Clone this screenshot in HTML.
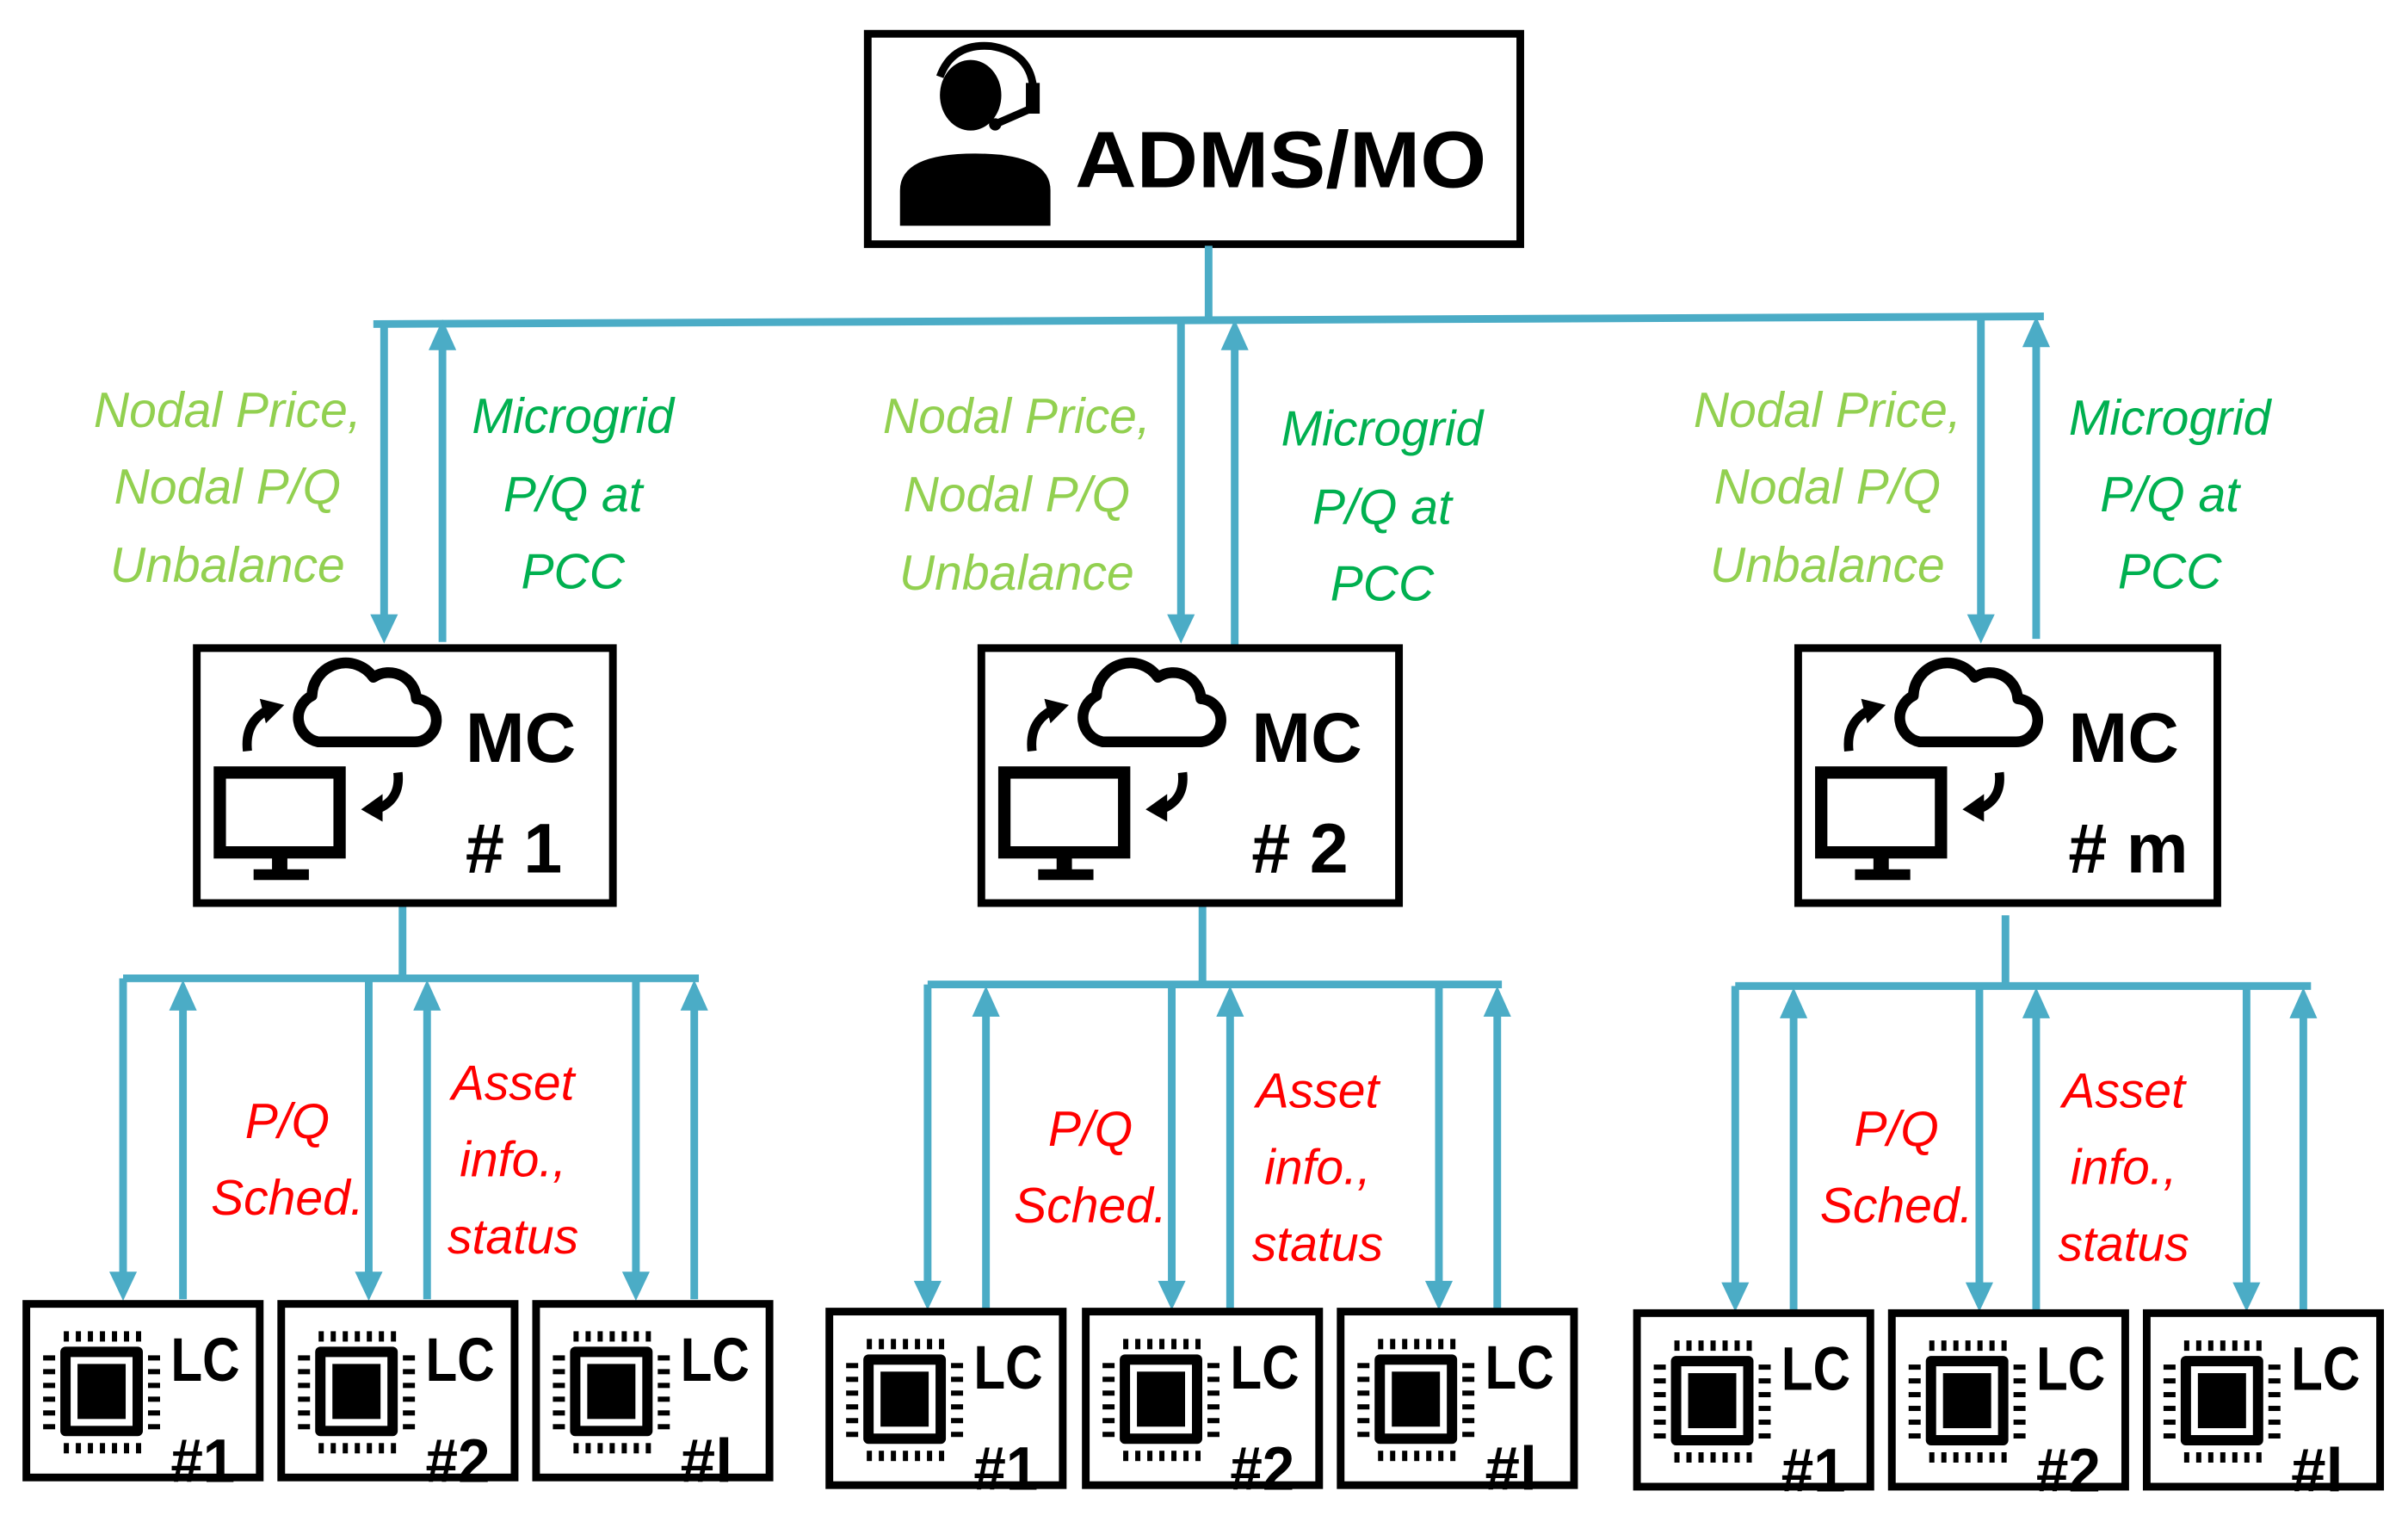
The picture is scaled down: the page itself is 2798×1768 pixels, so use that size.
<!DOCTYPE html>
<html><head><meta charset="utf-8"><style>html,body{margin:0;padding:0;background:#fff}svg{display:block}</style></head><body>
<svg width="2798" height="1768" viewBox="0 0 1568 991" xmlns="http://www.w3.org/2000/svg" font-family="Liberation Sans, sans-serif">
<defs>
<g id="mcicon">
  <path d="M80,62 a16,16 0 0 1 -4,-30 a22,22 0 0 1 40,-12 a18,18 0 0 1 28,14 a14,14 0 0 1 -2,28 Z" fill="none" stroke="#000" stroke-width="7" stroke-linejoin="round"/>
  <rect x="16" y="82" width="78" height="52" fill="none" stroke="#000" stroke-width="8"/>
  <rect x="50" y="136" width="10" height="10" fill="#000"/>
  <rect x="38" y="145" width="36" height="7" fill="#000"/>
  <path d="M34,68 Q32,50 46,42" fill="none" stroke="#000" stroke-width="6"/>
  <polygon points="42,34 58,38 46,50" fill="#000"/>
  <path d="M132,82 Q134,100 118,106" fill="none" stroke="#000" stroke-width="6"/>
  <polygon points="122,96 122,114 108,106" fill="#000"/>
</g>
<g id="chipbase">
  <rect x="27" y="33" width="48" height="52" rx="3" fill="#000"/>
  <rect x="33" y="39" width="36" height="40" fill="#fff"/>
  <rect x="37" y="43" width="28" height="32" fill="#000"/>
  <g fill="#000">
    <rect x="29" y="24" width="3" height="6"/><rect x="36" y="24" width="3" height="6"/><rect x="43" y="24" width="3" height="6"/><rect x="50" y="24" width="3" height="6"/><rect x="57" y="24" width="3" height="6"/><rect x="64" y="24" width="3" height="6"/><rect x="71" y="24" width="3" height="6"/>
    <rect x="29" y="89" width="3" height="6"/><rect x="36" y="89" width="3" height="6"/><rect x="43" y="89" width="3" height="6"/><rect x="50" y="89" width="3" height="6"/><rect x="57" y="89" width="3" height="6"/><rect x="64" y="89" width="3" height="6"/><rect x="71" y="89" width="3" height="6"/>
    <rect x="17" y="38" width="7" height="3"/><rect x="17" y="46" width="7" height="3"/><rect x="17" y="54" width="7" height="3"/><rect x="17" y="62" width="7" height="3"/><rect x="17" y="70" width="7" height="3"/><rect x="17" y="78" width="7" height="3"/>
    <rect x="78" y="38" width="7" height="3"/><rect x="78" y="46" width="7" height="3"/><rect x="78" y="54" width="7" height="3"/><rect x="78" y="62" width="7" height="3"/><rect x="78" y="70" width="7" height="3"/><rect x="78" y="78" width="7" height="3"/>
  </g>
</g>
<g id="chip"><use href="#chipbase" transform="translate(51,59) scale(1.12) translate(-51,-59)"/></g>
</defs>

<rect x="565" y="22" width="425" height="137" fill="#fff" stroke="#000" stroke-width="5"/>
<ellipse cx="632" cy="62" rx="20" ry="23" fill="#000"/>
<path d="M586,147 L586,124 Q586,100 635,100 Q684,100 684,124 L684,147 Z" fill="#000"/>
<path d="M612,50 Q620,28 645,30 Q672,34 673,60 L673,70 L650,80" fill="none" stroke="#000" stroke-width="5"/>
<rect x="668" y="54" width="9" height="20" fill="#000"/>
<circle cx="648" cy="81" r="4" fill="#000"/>
<text x="700" y="122" font-size="52" font-weight="bold" textLength="268" lengthAdjust="spacingAndGlyphs">ADMS/MO</text>

<g stroke="#4bacc6" stroke-width="5" fill="none">
  <line x1="787" y1="160" x2="787" y2="209"/>
  <line x1="243" y1="211" x2="1331" y2="206"/>
  <line x1="250" y1="211" x2="250" y2="404"/>
  <line x1="288" y1="418" x2="288" y2="222"/>
  <line x1="769" y1="209" x2="769" y2="404"/>
  <line x1="804" y1="420" x2="804" y2="222"/>
  <line x1="1290" y1="207" x2="1290" y2="404"/>
  <line x1="1326" y1="416" x2="1326" y2="220"/>
  <line x1="262" y1="590" x2="262" y2="637"/>
  <line x1="80" y1="637" x2="455" y2="637"/>
  <line x1="80" y1="637" x2="80" y2="832"/><line x1="240" y1="637" x2="240" y2="832"/><line x1="414" y1="637" x2="414" y2="832"/>
  <line x1="119" y1="846" x2="119" y2="652"/><line x1="278" y1="846" x2="278" y2="652"/><line x1="452" y1="846" x2="452" y2="652"/>
  <line x1="783" y1="590" x2="783" y2="641"/>
  <line x1="604" y1="641" x2="978" y2="641"/>
  <line x1="604" y1="641" x2="604" y2="838"/><line x1="763" y1="641" x2="763" y2="838"/><line x1="937" y1="641" x2="937" y2="838"/>
  <line x1="642" y1="852" x2="642" y2="656"/><line x1="801" y1="852" x2="801" y2="656"/><line x1="975" y1="852" x2="975" y2="656"/>
  <line x1="1306" y1="596" x2="1306" y2="642"/>
  <line x1="1130" y1="642" x2="1505" y2="642"/>
  <line x1="1130" y1="642" x2="1130" y2="839"/><line x1="1289" y1="642" x2="1289" y2="839"/><line x1="1463" y1="642" x2="1463" y2="839"/>
  <line x1="1168" y1="853" x2="1168" y2="657"/><line x1="1326" y1="853" x2="1326" y2="657"/><line x1="1500" y1="853" x2="1500" y2="657"/>
</g>
<g fill="#4bacc6">
  <polygon points="241,400 259,400 250,419"/><polygon points="279,228 297,228 288,208"/>
  <polygon points="760,400 778,400 769,419"/><polygon points="795,228 813,228 804,208"/>
  <polygon points="1281,400 1299,400 1290,419"/><polygon points="1317,226 1335,226 1326,206"/>
  <polygon points="71,828 89,828 80,847"/><polygon points="231,828 249,828 240,847"/><polygon points="405,828 423,828 414,847"/>
  <polygon points="110,658 128,658 119,638"/><polygon points="269,658 287,658 278,638"/><polygon points="443,658 461,658 452,638"/>
  <polygon points="595,834 613,834 604,853"/><polygon points="754,834 772,834 763,853"/><polygon points="928,834 946,834 937,853"/>
  <polygon points="633,662 651,662 642,642"/><polygon points="792,662 810,662 801,642"/><polygon points="966,662 984,662 975,642"/>
  <polygon points="1121,835 1139,835 1130,854"/><polygon points="1280,835 1298,835 1289,854"/><polygon points="1454,835 1472,835 1463,854"/>
  <polygon points="1159,663 1177,663 1168,643"/><polygon points="1317,663 1335,663 1326,643"/><polygon points="1491,663 1509,663 1500,643"/>
</g>

<g stroke="#000" stroke-width="5" fill="none">
  <rect x="128" y="422" width="271" height="166"/>
  <rect x="639" y="422" width="272" height="166"/>
  <rect x="1171" y="422" width="273" height="166"/>
</g>
<use href="#mcicon" x="127" y="421"/>
<use href="#mcicon" x="638" y="421"/>
<use href="#mcicon" x="1170" y="421"/>
<g font-size="46" font-weight="bold" fill="#000">
  <text x="303" y="496" textLength="72" lengthAdjust="spacingAndGlyphs">MC</text>
  <text x="303" y="568" textLength="63" lengthAdjust="spacingAndGlyphs"># 1</text>
  <text x="815" y="496" textLength="72" lengthAdjust="spacingAndGlyphs">MC</text>
  <text x="815" y="568" textLength="63" lengthAdjust="spacingAndGlyphs"># 2</text>
  <text x="1347" y="496" textLength="72" lengthAdjust="spacingAndGlyphs">MC</text>
  <text x="1347" y="568" textLength="78" lengthAdjust="spacingAndGlyphs"># m</text>
</g>

<g font-size="32" font-style="italic" text-anchor="middle">
  <g fill="#92d050">
    <text x="148" y="278">Nodal Price,</text><text x="148" y="328">Nodal P/Q</text><text x="148" y="379">Unbalance</text>
    <text x="662" y="282">Nodal Price,</text><text x="662" y="333">Nodal P/Q</text><text x="662" y="384">Unbalance</text>
    <text x="1190" y="278">Nodal Price,</text><text x="1190" y="328">Nodal P/Q</text><text x="1190" y="379">Unbalance</text>
  </g>
  <g fill="#00b050">
    <text x="373" y="282">Microgrid</text><text x="373" y="333">P/Q at</text><text x="373" y="383">PCC</text>
    <text x="900" y="290">Microgrid</text><text x="900" y="341">P/Q at</text><text x="900" y="391">PCC</text>
    <text x="1413" y="283">Microgrid</text><text x="1413" y="333">P/Q at</text><text x="1413" y="383">PCC</text>
  </g>
  <g fill="#ff0000">
    <text x="187" y="741">P/Q</text><text x="187" y="791">Sched.</text>
    <text x="334" y="716">Asset</text><text x="334" y="766">info.,</text><text x="334" y="816">status</text>
    <text x="710" y="746">P/Q</text><text x="710" y="796">Sched.</text>
    <text x="858" y="721">Asset</text><text x="858" y="771">info.,</text><text x="858" y="821">status</text>
    <text x="1235" y="746">P/Q</text><text x="1235" y="796">Sched.</text>
    <text x="1383" y="721">Asset</text><text x="1383" y="771">info.,</text><text x="1383" y="821">status</text>
  </g>
</g>

<g font-size="40" font-weight="bold" fill="#000">
  <g transform="translate(15,847)"><use href="#chip"/><text x="96" y="52" textLength="45" lengthAdjust="spacingAndGlyphs">LC</text><text x="96" y="118" textLength="42" lengthAdjust="spacingAndGlyphs">#1</text><rect x="2" y="2" width="152" height="113" fill="none" stroke="#000" stroke-width="5"/></g>
  <g transform="translate(181,847)"><use href="#chip"/><text x="96" y="52" textLength="45" lengthAdjust="spacingAndGlyphs">LC</text><text x="96" y="118" textLength="42" lengthAdjust="spacingAndGlyphs">#2</text><rect x="2" y="2" width="152" height="113" fill="none" stroke="#000" stroke-width="5"/></g>
  <g transform="translate(347,847)"><use href="#chip"/><text x="96" y="52" textLength="45" lengthAdjust="spacingAndGlyphs">LC</text><text x="96" y="118" textLength="34" lengthAdjust="spacingAndGlyphs">#l</text><rect x="2" y="2" width="152" height="113" fill="none" stroke="#000" stroke-width="5"/></g>

  <g transform="translate(538,852)"><use href="#chip"/><text x="96" y="52" textLength="45" lengthAdjust="spacingAndGlyphs">LC</text><text x="96" y="118" textLength="42" lengthAdjust="spacingAndGlyphs">#1</text><rect x="2" y="2" width="152" height="113" fill="none" stroke="#000" stroke-width="5"/></g>
  <g transform="translate(705,852)"><use href="#chip"/><text x="96" y="52" textLength="45" lengthAdjust="spacingAndGlyphs">LC</text><text x="96" y="118" textLength="42" lengthAdjust="spacingAndGlyphs">#2</text><rect x="2" y="2" width="152" height="113" fill="none" stroke="#000" stroke-width="5"/></g>
  <g transform="translate(871,852)"><use href="#chip"/><text x="96" y="52" textLength="45" lengthAdjust="spacingAndGlyphs">LC</text><text x="96" y="118" textLength="34" lengthAdjust="spacingAndGlyphs">#l</text><rect x="2" y="2" width="152" height="113" fill="none" stroke="#000" stroke-width="5"/></g>

  <g transform="translate(1064,853)"><use href="#chip"/><text x="96" y="52" textLength="45" lengthAdjust="spacingAndGlyphs">LC</text><text x="96" y="118" textLength="42" lengthAdjust="spacingAndGlyphs">#1</text><rect x="2" y="2" width="152" height="113" fill="none" stroke="#000" stroke-width="5"/></g>
  <g transform="translate(1230,853)"><use href="#chip"/><text x="96" y="52" textLength="45" lengthAdjust="spacingAndGlyphs">LC</text><text x="96" y="118" textLength="42" lengthAdjust="spacingAndGlyphs">#2</text><rect x="2" y="2" width="152" height="113" fill="none" stroke="#000" stroke-width="5"/></g>
  <g transform="translate(1396,853)"><use href="#chip"/><text x="96" y="52" textLength="45" lengthAdjust="spacingAndGlyphs">LC</text><text x="96" y="118" textLength="34" lengthAdjust="spacingAndGlyphs">#l</text><rect x="2" y="2" width="152" height="113" fill="none" stroke="#000" stroke-width="5"/></g>
</g>
</svg>
</body></html>
